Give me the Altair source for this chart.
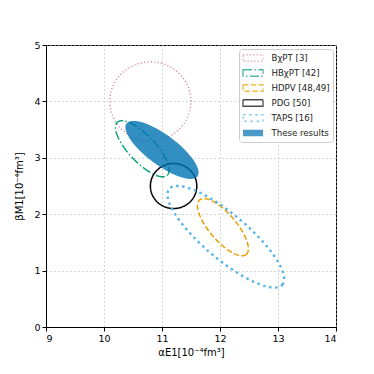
import numpy as np
import pandas as pd
import altair as alt

series = ["BχPT [3]", "HBχPT [42]", "HDPV [48,49]", "PDG [50]", "TAPS [16]", "These results"]
colors = ["#CC79A7", "#009E73", "#E69F00", "#000000", "#56B4E9", "transparent"]
fills = ["transparent", "transparent", "transparent", "transparent", "transparent", "#0072B2"]
dashes = [[1.2, 2.2], [9, 2.4, 1.5, 2.4], [5.5, 2.4], [1, 0], [2.5, 3.6], [1, 0]]
widths = [1.2, 1.4, 1.5, 1.5, 2.4, 1.0]

# ellipse centres and semi-axis vectors (data units)
cx = [10.80, 10.66, 12.05, 11.20, 12.10, 11.00]
cy = [4.00, 3.16, 1.77, 2.50, 1.60, 3.14]
ux = [0.70, 0.43, 0.40, 0.40, 0.975, 0.61]
uy = [0.00, -0.47, -0.485, 0.00, -0.85, -0.47]
vx = [0.00, 0.17, 0.18, 0.00, 0.25, 0.16]
vy = [0.70, 0.16, 0.15, 0.40, 0.30, 0.21]

t = np.linspace(0, 2 * np.pi, 181)
rows = []
for k, s in enumerate(series):
    xs = cx[k] + ux[k] * np.cos(t) + vx[k] * np.sin(t)
    ys = cy[k] + uy[k] * np.cos(t) + vy[k] * np.sin(t)
    for i, (a, b) in enumerate(zip(xs, ys)):
        rows.append({"series": s, "x": a, "y": b, "i": i, "w": widths[k]})
df = pd.DataFrame(rows)

sym_path = "M-2,-0.65H2V0.65H-2Z"
legend = alt.Legend(
    title=None, orient="top-right", offset=3.5,
    fillColor="white", strokeColor="#cccccc", cornerRadius=3, padding=3,
    symbolType=sym_path, symbolSize=100, symbolStrokeWidth=1.3, symbolOffset=5,
    labelFontSize=8.6, labelColor="#222222", rowPadding=3, labelOffset=12.5,
)

xenc = alt.X("x:Q", scale=alt.Scale(domain=[9, 14], nice=False),
             axis=alt.Axis(values=[9, 10, 11, 12, 13, 14], title="αE1[10⁻⁴fm³]"))
yenc = alt.Y("y:Q", scale=alt.Scale(domain=[0, 5], nice=False),
             axis=alt.Axis(values=[0, 1, 2, 3, 4, 5], title="βM1[10⁻⁴fm³]"))
stroke_scale = alt.Scale(domain=series, range=colors)
fill_scale = alt.Scale(domain=series, range=fills)
dash_scale = alt.Scale(domain=series, range=dashes)

base = alt.Chart(df)

# legend carrier: point layer with no rows, rectangle symbols
keys = base.mark_point(shape=sym_path, size=100, strokeWidth=1.3).encode(
    x=xenc, y=yenc,
    stroke=alt.Stroke("series:N", scale=stroke_scale, legend=legend),
    fill=alt.Fill("series:N", scale=fill_scale, legend=legend),
    strokeDash=alt.StrokeDash("series:N", scale=dash_scale, legend=legend),
).transform_filter("false")

line_enc = dict(
    x=xenc, y=yenc,
    stroke=alt.Stroke("series:N", scale=stroke_scale, legend=None),
    fill=alt.Fill("series:N", scale=fill_scale, legend=None),
    strokeDash=alt.StrokeDash("series:N", scale=dash_scale, legend=None),
    strokeWidth=alt.StrokeWidth("w:Q", scale=None, legend=None),
    detail="series:N",
    order=alt.Order("i:Q"),
)
outlines = base.mark_line().encode(**line_enc).transform_filter(
    alt.datum.series != "These results")
ours = base.mark_line(fillOpacity=0.8).encode(**line_enc).transform_filter(
    alt.datum.series == "These results")

chart = alt.layer(keys, outlines, ours).properties(
    width=290, height=282,
    autosize=alt.AutoSizeParams(type="none"),
    padding={"left": 38, "top": 37, "right": 30, "bottom": 40},
).configure_view(
    stroke="black", strokeWidth=1,
).configure_axis(
    grid=True, gridDash=[1, 3], gridColor="#b0b0b0",
    domainColor="black", tickColor="black", tickSize=4,
    labelFontSize=9.5, labelColor="black", titleFontSize=10, titleColor="black",
    titleFontWeight="normal", labelFont="DejaVu Sans", titleFont="DejaVu Sans",
).configure_axisY(titlePadding=9).configure_axisX(titlePadding=5).configure_legend(
    labelFont="DejaVu Sans", symbolType=sym_path, symbolSize=100
)

chart.save("out.html", embed_options={"renderer": "svg", "actions": False})
